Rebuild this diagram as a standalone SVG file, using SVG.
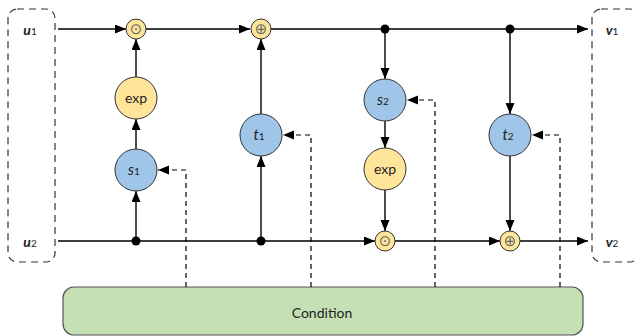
<svg xmlns="http://www.w3.org/2000/svg" width="635" height="336" viewBox="0 0 635 336">
<style>
.frame{fill:none;stroke:#333;stroke-width:1.2;stroke-dasharray:7,5}
.op{fill:#FFE599;stroke:#333;stroke-width:1}
.net{fill:#9FC5E8;stroke:#333;stroke-width:1}
.sym{font-family:"DejaVu Sans",sans-serif;font-size:15px;fill:#666;text-anchor:middle;dominant-baseline:central}
.lbl{font-family:Lato,"Liberation Sans",sans-serif;font-size:14px;fill:#222;text-anchor:middle;dominant-baseline:central}
.it{font-style:italic;font-size:15px}
.bi{font-style:italic;font-weight:bold}
.sub{font-size:10px;font-style:normal;font-weight:normal}
.line{fill:none;stroke:#000;stroke-width:1.4;marker-end:url(#ah)}
.dash{fill:none;stroke:#000;stroke-width:1.2;stroke-dasharray:5,4;marker-end:url(#ah)}
.dot{fill:#000}
</style>
<defs>
<marker id="ah" markerUnits="userSpaceOnUse" markerWidth="12" markerHeight="10" refX="11" refY="4.5" orient="auto">
<path d="M0,0 L11,4.5 L0,9 z" fill="#000"/>
</marker>
</defs>
<g id="input-frame"><rect class="frame" x="8" y="9" width="47" height="253" rx="9"/>
<text class="lbl bi" x="30" y="29">u<tspan class="sub" dy="2">1</tspan></text>
<text class="lbl bi" x="30" y="241">u<tspan class="sub" dy="2">2</tspan></text></g>
<g id="output-frame"><rect class="frame" x="592" y="9" width="47" height="253" rx="9"/>
<text class="lbl bi" x="612" y="29">v<tspan class="sub" dy="2">1</tspan></text>
<text class="lbl bi" x="612" y="241">v<tspan class="sub" dy="2">2</tspan></text></g>
<g id="condition"><rect x="63" y="287" width="520" height="48" rx="11" fill="#C5E0B4" stroke="#555" stroke-width="1.2"/>
<text class="lbl" x="322" y="312">Condition</text></g>
<g id="connectors">
<path class="line" d="M58,29 H126"/>
<path class="line" d="M146,29 H250"/>
<path class="line" d="M270,29 H588"/>
<path class="line" d="M136,77 V39"/>
<path class="line" d="M136,149 V119"/>
<path class="line" d="M136,241 V191"/>
<path class="line" d="M58,241 H375"/>
<path class="line" d="M395,241 H500"/>
<path class="line" d="M520,241 H588"/>
<path class="line" d="M261,241 V156"/>
<path class="line" d="M261,114 V39"/>
<path class="line" d="M385,29 V79"/>
<path class="line" d="M385,121 V148"/>
<path class="line" d="M385,190 V231"/>
<path class="line" d="M510,29 V114"/>
<path class="line" d="M510,156 V231"/>
<path class="dash" d="M186,287 V170 H158"/>
<path class="dash" d="M311,287 V135 H283"/>
<path class="dash" d="M435,287 V100 H407"/>
<path class="dash" d="M560,287 V135 H532"/>
<circle class="dot" cx="136" cy="241" r="4.5"/>
<circle class="dot" cx="261" cy="241" r="4.5"/>
<circle class="dot" cx="385" cy="29" r="4.5"/>
<circle class="dot" cx="510" cy="29" r="4.5"/>
</g>
<g id="odot1"><circle class="op" cx="136" cy="29" r="10"/><text class="sym" x="136" y="29">⊙</text></g>
<g id="oplus1"><circle class="op" cx="261" cy="29" r="10"/><text class="sym" x="261" y="29">⊕</text></g>
<g id="exp1"><circle class="op" cx="136" cy="98" r="21"/><text class="lbl" x="136" y="97">exp</text></g>
<g id="s1"><circle class="net" cx="136" cy="170" r="21"/><text class="lbl it" x="134" y="169">s<tspan class="sub" dy="2">1</tspan></text></g>
<g id="t1"><circle class="net" cx="261" cy="135" r="21"/><text class="lbl it" x="259" y="134">t<tspan class="sub" dy="2">1</tspan></text></g>
<g id="s2"><circle class="net" cx="385" cy="100" r="21"/><text class="lbl it" x="383" y="99">s<tspan class="sub" dy="2">2</tspan></text></g>
<g id="exp2"><circle class="op" cx="385" cy="169" r="21"/><text class="lbl" x="385" y="168">exp</text></g>
<g id="t2"><circle class="net" cx="510" cy="135" r="21"/><text class="lbl it" x="508" y="134">t<tspan class="sub" dy="2">2</tspan></text></g>
<g id="odot2"><circle class="op" cx="385" cy="241" r="10"/><text class="sym" x="385" y="241">⊙</text></g>
<g id="oplus2"><circle class="op" cx="510" cy="241" r="10"/><text class="sym" x="510" y="241">⊕</text></g>
</svg>
